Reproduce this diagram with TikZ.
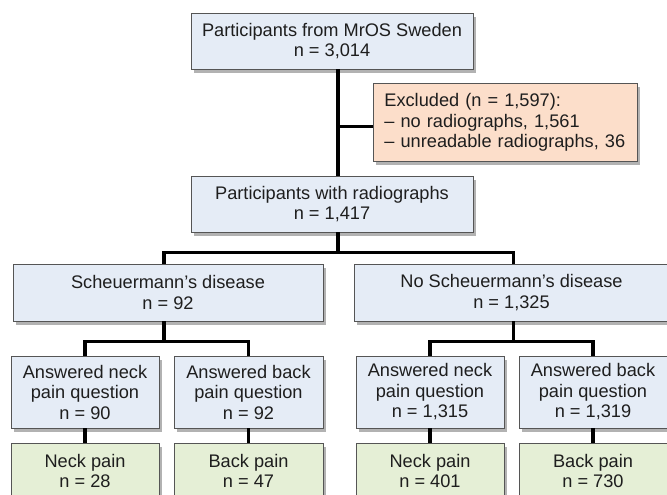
\documentclass[tikz,border=0pt]{standalone}
\usepackage{fontspec}
\setmainfont{Liberation Sans}
\usetikzlibrary{shadows}
\definecolor{boxblue}{RGB}{229,236,246}
\definecolor{boxpeach}{RGB}{252,222,202}
\definecolor{boxgreen}{RGB}{229,239,214}
\definecolor{boxline}{RGB}{85,85,85}
\definecolor{boxtext}{RGB}{30,30,30}
\begin{document}
\begin{tikzpicture}[
            x=1pt,
            y=-1pt,
            box/.style={rectangle, draw=boxline, line width=0.8pt, inner sep=0pt, align=center,
                text=boxtext, font=\fontsize{18.2}{20.5}\selectfont,
                drop shadow={shadow xshift=2.5pt, shadow yshift=-4pt, opacity=0.3, fill=black}},
            study/.style={box, fill=boxblue},
            excluded/.style={box, fill=boxpeach, align=left, text width=242pt, inner xsep=11pt},
            outcome/.style={box, fill=boxgreen},
            conn/.style={draw=black, line width=3.8pt, line join=miter}
        ]
        \useasboundingbox (0,0) rectangle (667,495);
        \node[study, minimum width=282pt, minimum height=56pt] (top) at (332,41) {Participants from MrOS Sweden\\n = 3,014};
        \node[excluded, anchor=north west, minimum height=78pt] (excl) at (373,83) {Excluded (n = 1,597):\\-- no radiographs, 1,561\\-- unreadable radiographs, 36};
        \node[study, minimum width=282pt, minimum height=56pt] (radio) at (332,204) {Participants with radiographs\\n = 1,417};
        \node[study, minimum width=310pt, minimum height=57pt] (sch) at (168,292.5) {Scheuermann’s disease\\n = 92};
        \node[study, minimum width=315pt, minimum height=57pt] (nosch) at (511.5,292.5) {No Scheuermann’s disease\\n = 1,325};
        \node[study, minimum width=148pt, minimum height=72pt] (neck1) at (85,392) {Answered neck\\pain question\\n = 90};
        \node[study, minimum width=149pt, minimum height=72pt] (back1) at (248.5,392) {Answered back\\pain question\\n = 92};
        \node[study, minimum width=148pt, minimum height=72pt] (neck2) at (430,392) {Answered neck\\pain question\\n = 1,315};
        \node[study, minimum width=148pt, minimum height=72pt] (back2) at (593,392) {Answered back\\pain question\\n = 1,319};
        \node[outcome, minimum width=148pt, minimum height=56pt] (pain1) at (85,471) {Neck pain\\n = 28};
        \node[outcome, minimum width=149pt, minimum height=56pt] (pain2) at (248.5,471) {Back pain\\n = 47};
        \node[outcome, minimum width=148pt, minimum height=56pt] (pain3) at (430,471) {Neck pain\\n = 401};
        \node[outcome, minimum width=148pt, minimum height=56pt] (pain4) at (593,471) {Back pain\\n = 730};
        \coordinate (spine) at (338,0);
        \draw[conn] (top.south -| spine) -- (radio.north -| spine);
        \draw[conn] (excl.west) ++(0,4) coordinate (exclin) -- (exclin -| spine);
        \draw[conn] (radio.south -| spine) -- ++(0,20) coordinate (split1);
        \draw[conn] ([xshift=-4pt]sch.north) |- (split1) -| ([xshift=2pt]nosch.north);
        \draw[conn] ([xshift=-4pt]sch.south) -- ++(0,20) coordinate (split2);
        \draw[conn] (neck1.north) |- (split2) -| (back1.north);
        \draw[conn] ([xshift=2pt]nosch.south) -- ++(0,20) coordinate (split3);
        \draw[conn] (neck2.north) |- (split3) -| (back2.north);
        \foreach \i in {1,2} {
            \draw[conn] (neck\i) -- (pain\the\numexpr2*\i-1\relax);
            \draw[conn] (back\i) -- (pain\the\numexpr2*\i\relax);
        }
    \end{tikzpicture}
\end{document}
